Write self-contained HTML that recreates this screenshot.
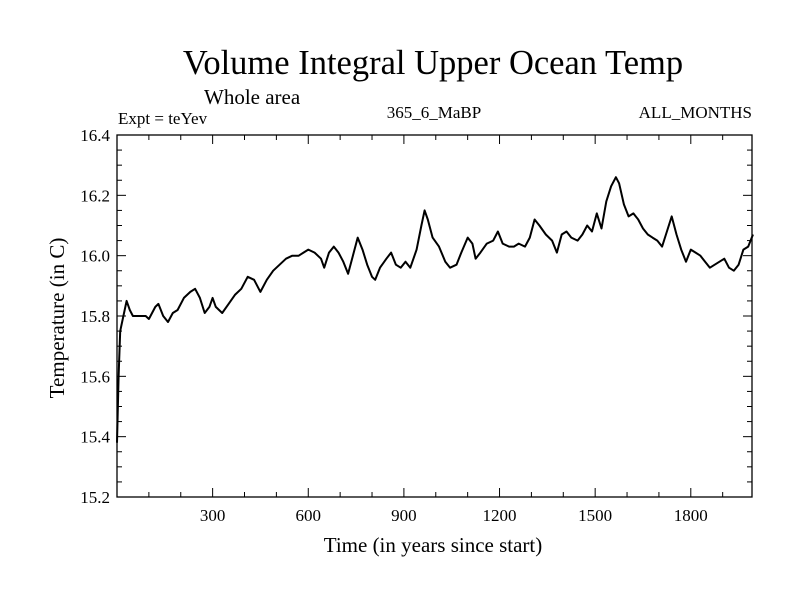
<!DOCTYPE html>
<html><head><meta charset="utf-8"><style>
body{margin:0;background:#fff}
svg{display:block;font-family:"Liberation Serif",serif}
</style></head><body>
<svg id="chart" width="800" height="600">
<text x="433" y="74" font-size="34.5" text-anchor="middle">Volume Integral Upper Ocean Temp</text>
<text x="204" y="104" font-size="21">Whole area</text>
<text x="118" y="124" font-size="17">Expt = teYev</text>
<text x="434" y="118" font-size="17" text-anchor="middle">365_6_MaBP</text>
<text x="752" y="118" font-size="17" text-anchor="end">ALL_MONTHS</text>
<text x="433" y="552" font-size="21" text-anchor="middle">Time (in years since start)</text>
<text transform="translate(64,318) rotate(-90)" font-size="21" text-anchor="middle">Temperature (in C)</text>
<g id="axes"></g>
<path id="series" fill="none" stroke="#000" stroke-width="2" stroke-linejoin="round"/>
<rect x="117" y="135" width="635" height="362" fill="none" stroke="#000" stroke-width="1.3"/>
</svg>
<script>
const years=[0,5,10,20,30,40,50,70,90,100,120,130,145,160,175,190,210,230,245,260,275,290,300,310,330,350,370,390,410,430,450,470,490,510,530,550,570,585,600,620,640,650,665,680,695,710,725,740,755,770,785,800,810,825,845,860,875,890,905,920,940,955,965,975,990,1010,1030,1045,1065,1080,1100,1115,1125,1140,1160,1180,1195,1210,1230,1245,1260,1280,1295,1310,1325,1345,1365,1380,1395,1410,1425,1445,1460,1475,1490,1505,1520,1535,1550,1565,1575,1590,1605,1620,1635,1650,1665,1680,1695,1710,1725,1740,1755,1770,1785,1800,1815,1830,1845,1860,1875,1890,1905,1920,1935,1950,1965,1980,1995];
const temps=[15.38,15.6,15.75,15.8,15.85,15.82,15.8,15.8,15.8,15.79,15.83,15.84,15.8,15.78,15.81,15.82,15.86,15.88,15.89,15.86,15.81,15.83,15.86,15.83,15.81,15.84,15.87,15.89,15.93,15.92,15.88,15.92,15.95,15.97,15.99,16.0,16.0,16.01,16.02,16.01,15.99,15.96,16.01,16.03,16.01,15.98,15.94,16.0,16.06,16.02,15.97,15.93,15.92,15.96,15.99,16.01,15.97,15.96,15.98,15.96,16.02,16.1,16.15,16.12,16.06,16.03,15.98,15.96,15.97,16.01,16.06,16.04,15.99,16.01,16.04,16.05,16.08,16.04,16.03,16.03,16.04,16.03,16.06,16.12,16.1,16.07,16.05,16.01,16.07,16.08,16.06,16.05,16.07,16.1,16.08,16.14,16.09,16.18,16.23,16.26,16.24,16.17,16.13,16.14,16.12,16.09,16.07,16.06,16.05,16.03,16.08,16.13,16.07,16.02,15.98,16.02,16.01,16.0,15.98,15.96,15.97,15.98,15.99,15.96,15.95,15.97,16.02,16.03,16.07];
const xTicks=[300,600,900,1200,1500,1800];
const yTicks=[15.2,15.4,15.6,15.8,16.0,16.2,16.4];
const L=117,R=752,T=135,B=497,X0=0,X1=1992,Y0=15.2,Y1=16.4;
const sx=v=>L+(v-X0)/(X1-X0)*(R-L);
const sy=v=>B-(v-Y0)/(Y1-Y0)*(B-T);
const ns="http://www.w3.org/2000/svg";
const g=document.getElementById('axes');
function ln(x1,y1,x2,y2){const l=document.createElementNS(ns,'line');l.setAttribute('x1',x1);l.setAttribute('y1',y1);l.setAttribute('x2',x2);l.setAttribute('y2',y2);l.setAttribute('stroke','#000');l.setAttribute('stroke-width','1');


g.appendChild(l);}
for(let v=100;v<X1;v+=100){const x=sx(v),len=(v%300===0)?9:5;ln(x,B,x,B-len);ln(x,T,x,T+len);}
for(let i=0;i<=24;i++){const v=Y0+i*0.05,y=sy(v),len=(i%4===0)?9:5;ln(L,y,L+len,y);ln(R,y,R-len,y);}
xTicks.forEach(v=>{const t=document.createElementNS(ns,'text');t.setAttribute('x',sx(v));t.setAttribute('y',B+24);t.setAttribute('font-size','17');t.setAttribute('text-anchor','middle');t.textContent=v;


g.appendChild(t);});
yTicks.forEach(v=>{const t=document.createElementNS(ns,'text');t.setAttribute('x',L-7);t.setAttribute('y',sy(v)+6);t.setAttribute('font-size','17');t.setAttribute('text-anchor','end');t.textContent=v.toFixed(1);


g.appendChild(t);});
document.getElementById('series').setAttribute('d',years.map((y,i)=>(i?'L':'M')+sx(y).toFixed(1)+','+sy(temps[i]).toFixed(1)).join(''));
</script>
</body></html>
